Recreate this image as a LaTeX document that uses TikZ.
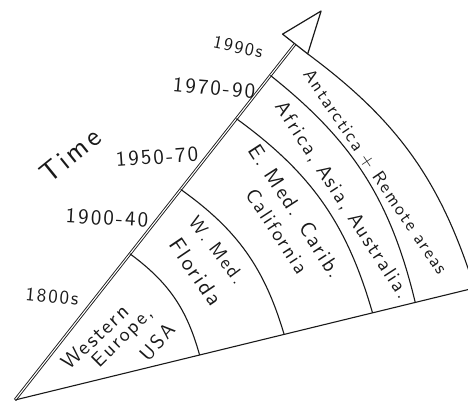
\documentclass[tikz,border=0pt]{standalone}
\usepackage{fontspec}
\newfontfamily\handfont{lmsans10-regular.otf}[LetterSpace=10]
\usepackage{xcolor}
\definecolor{penink}{RGB}{25,25,25}
\usetikzlibrary{positioning}

\tikzset{
  ring/.style={penink, line width=1.1pt},
  scrawl/.style={penink, inner sep=0pt, font=\handfont\fontsize{#1}{#1}\selectfont},
  scrawl/.default=20,
  yearlbl/.style={scrawl=#1},
  yearlbl/.default=21,
}

\begin{document}
\begin{tikzpicture}[x=1pt, y=1pt]
\useasboundingbox (0,0) rectangle (468,404);
\clip (0,0) rectangle (468,404);

% --- apex, time axis and open arrowhead ---
\coordinate (O) at (15,4);
\coordinate (axisend) at ([shift={(51.8:453)}]O);
\coordinate (headl) at ([shift={(141.8:16)}]axisend);
\coordinate (headr) at ([shift={(-38.2:16)}]axisend);
\coordinate (headtip) at ([shift={(51.8:42)}]axisend);
\draw[penink, line width=0.9pt, double=white, double distance=1.1pt] (O) -- (axisend);
\draw[penink, line width=1.2pt, line join=round, fill=white] (headl) -- (headtip) -- (headr) -- cycle;

% --- base line ---
\coordinate (baseend) at ([shift={(13.7:490)}]O);
\draw[ring] (O) -- (baseend);

% --- rings: axis point to base point ---
\coordinate (t1) at ([shift={(51.8:186)}]O);
\coordinate (t2) at ([shift={(51.8:268)}]O);
\coordinate (t3) at ([shift={(51.8:358)}]O);
\coordinate (t4) at ([shift={(51.8:413)}]O);
\coordinate (b1) at ([shift={(13.7:190)}]O);
\coordinate (b2) at ([shift={(13.7:277)}]O);
\coordinate (b3) at ([shift={(13.7:368)}]O);
\coordinate (b4) at ([shift={(13.7:412)}]O);
\coordinate (b5) at ([shift={(13.7:473)}]O);
\draw[ring] (t1) to[bend left=19] (b1);
\draw[ring] (t2) to[bend left=19] (b2);
\draw[ring] (t3) to[bend left=19] (b3);
\draw[ring] (t4) to[bend left=19] (b4);
\draw[ring] (headr) to[bend left=18] (b5);

% --- time labels ---
\node[yearlbl=19, rotate=-5] (y1800) at (52,107) {1800s};
\node[yearlbl, rotate=-3] (y1900) at (107,186) {1900-40};
\node[yearlbl, rotate=4] (y1950) at (157,247) {1950-70};
\node[yearlbl, rotate=-5] (y1970) at (214,316) {1970-90};
\node[yearlbl=18, rotate=-12] (y1990) at (238,357) {1990s};
\node[scrawl=28, rotate=39] (time) at (70,249) {Time};

% --- regions ---
\node[scrawl=21, rotate=43] (west1) at (95,67) {Western};
\node[scrawl, rotate=45] (west2) at (123,66) {Europe,};
\node[scrawl, rotate=48] (west3) at (157,62) {USA};
\node[scrawl=19, rotate=-53] (wmed1) at (217,154) {W. Med.};
\node[scrawl=22, rotate=-56] (wmed2) at (196,132) {Florida};
\node[scrawl=21, rotate=-57] (emed1) at (296,193) {E. Med. Carib.};
\node[scrawl, rotate=-57] (emed2) at (277,173) {California};
\node[scrawl, rotate=-57] (asia) at (342,204) {Africa, Asia, Australia.};
\node[scrawl=18, rotate=-56] (remote) at (375,232) {Antarctica + Remote areas};

\end{tikzpicture}
\end{document}
